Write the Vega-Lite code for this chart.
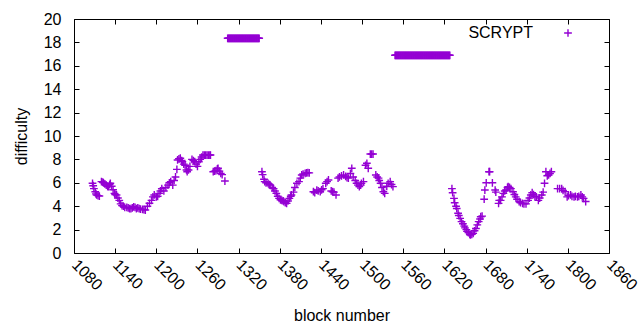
{
 "$schema": "https://vega.github.io/schema/vega-lite/v6.json",
 "width": 535, "height": 234,
 "autosize": "none",
 "padding": {"left": 74, "top": 19, "right": 31, "bottom": 77},
 "background": "white",
 "config": {"view": {"stroke": "black", "strokeWidth": 1}, "font": "Liberation Sans"},
 "data": {"values": [
  {"b":1107,"d":5.96},{"b":1108,"d":5.75},{"b":1109,"d":5.5},{"b":1111,"d":5.24},{"b":1112,"d":5.05},{"b":1113,"d":4.96},{"b":1115,"d":4.9},{"b":1117,"d":4.87},
  {"b":1120,"d":6.1},{"b":1122,"d":6.05},{"b":1123,"d":6.0},{"b":1125,"d":5.9},{"b":1127,"d":5.8},{"b":1129,"d":5.7},{"b":1130,"d":5.67},{"b":1132,"d":5.85},{"b":1133,"d":5.96},{"b":1135,"d":5.7},{"b":1137,"d":5.4},{"b":1139,"d":5.1},{"b":1140,"d":5.0},{"b":1142,"d":4.96},{"b":1144,"d":4.7},{"b":1146,"d":4.5},{"b":1148,"d":4.2},{"b":1150,"d":4.05},{"b":1152,"d":4.0},{"b":1154,"d":3.9},{"b":1157,"d":3.9},{"b":1159,"d":3.85},{"b":1161,"d":3.8},{"b":1163,"d":3.8},{"b":1165,"d":3.85},{"b":1167,"d":3.95},{"b":1169,"d":3.9},{"b":1171,"d":3.8},{"b":1173,"d":3.85},{"b":1175,"d":3.8},{"b":1177,"d":3.75},{"b":1180,"d":3.73},{"b":1182,"d":3.7},{"b":1184,"d":3.67},{"b":1187,"d":4.0},{"b":1190,"d":4.25},{"b":1193,"d":4.5},{"b":1195,"d":4.8},{"b":1197,"d":4.96},{"b":1200,"d":4.8},{"b":1202,"d":4.85},{"b":1204,"d":5.1},{"b":1206,"d":5.3},{"b":1208,"d":5.5},{"b":1211,"d":5.3},{"b":1214,"d":5.6},{"b":1217,"d":5.8},{"b":1219,"d":6.0},{"b":1221,"d":6.1},{"b":1224,"d":5.8},{"b":1226,"d":6.2},{"b":1228,"d":6.5},{"b":1230,"d":7.15},{"b":1231,"d":7.95},{"b":1233,"d":8.05},{"b":1235,"d":8.1},{"b":1237,"d":7.9},{"b":1238,"d":7.8},{"b":1240,"d":7.6},{"b":1242,"d":7.5},{"b":1244,"d":7.1},{"b":1245,"d":6.95},{"b":1247,"d":7.1},{"b":1249,"d":7.4},{"b":1252,"d":8.0},{"b":1254,"d":7.9},{"b":1256,"d":7.8},{"b":1258,"d":7.6},{"b":1260,"d":7.4},{"b":1262,"d":7.8},{"b":1264,"d":8.0},{"b":1266,"d":8.2},{"b":1268,"d":8.37},{"b":1270,"d":8.37},{"b":1272,"d":8.37},{"b":1274,"d":8.37},{"b":1276,"d":8.37},{"b":1278,"d":8.37},{"b":1279,"d":8.37},{"b":1283,"d":6.95},{"b":1285,"d":7.0},{"b":1287,"d":7.05},{"b":1289,"d":7.2},{"b":1290,"d":7.24},{"b":1292,"d":7.0},{"b":1294,"d":6.8},{"b":1296,"d":6.7},{"b":1300,"d":6.15},
  {"b":1304,"d":18.35},{"b":1305,"d":18.35},{"b":1306,"d":18.35},{"b":1307,"d":18.35},{"b":1308,"d":18.35},{"b":1309,"d":18.35},{"b":1310,"d":18.35},{"b":1311,"d":18.35},{"b":1312,"d":18.35},{"b":1313,"d":18.35},{"b":1314,"d":18.35},{"b":1315,"d":18.35},{"b":1316,"d":18.35},{"b":1317,"d":18.35},{"b":1318,"d":18.35},{"b":1319,"d":18.35},{"b":1320,"d":18.35},{"b":1321,"d":18.35},{"b":1322,"d":18.35},{"b":1323,"d":18.35},{"b":1324,"d":18.35},{"b":1325,"d":18.35},{"b":1326,"d":18.35},{"b":1327,"d":18.35},{"b":1328,"d":18.35},{"b":1329,"d":18.35},{"b":1330,"d":18.35},{"b":1331,"d":18.35},{"b":1332,"d":18.35},{"b":1333,"d":18.35},{"b":1334,"d":18.35},{"b":1335,"d":18.35},{"b":1336,"d":18.35},{"b":1337,"d":18.35},{"b":1338,"d":18.35},{"b":1339,"d":18.35},{"b":1340,"d":18.35},{"b":1341,"d":18.35},{"b":1342,"d":18.35},{"b":1343,"d":18.35},{"b":1344,"d":18.35},{"b":1345,"d":18.35},{"b":1346,"d":18.35},{"b":1347,"d":18.35},{"b":1348,"d":18.35},{"b":1349,"d":18.35},{"b":1350,"d":18.35},
  {"b":1354,"d":6.95},{"b":1355,"d":6.7},{"b":1357,"d":6.3},{"b":1358,"d":6.1},{"b":1360,"d":6.0},{"b":1363,"d":5.96},{"b":1365,"d":5.85},{"b":1366,"d":5.8},{"b":1369,"d":5.6},{"b":1371,"d":5.5},{"b":1373,"d":5.3},{"b":1375,"d":5.1},{"b":1377,"d":4.85},{"b":1379,"d":4.67},{"b":1381,"d":4.55},{"b":1383,"d":4.5},{"b":1385,"d":4.45},{"b":1386,"d":4.4},{"b":1388,"d":4.3},{"b":1390,"d":4.24},{"b":1392,"d":4.45},{"b":1394,"d":4.67},{"b":1396,"d":4.85},{"b":1397,"d":4.96},{"b":1400,"d":5.2},{"b":1402,"d":5.6},{"b":1405,"d":5.96},{"b":1408,"d":6.1},{"b":1410,"d":6.4},{"b":1412,"d":6.67},{"b":1414,"d":6.75},{"b":1417,"d":6.8},{"b":1419,"d":6.85},{"b":1421,"d":6.87},{"b":1423,"d":6.85},
  {"b":1429,"d":5.24},{"b":1431,"d":5.15},{"b":1434,"d":5.38},{"b":1436,"d":5.3},{"b":1439,"d":5.24},{"b":1441,"d":5.4},{"b":1443,"d":5.5},{"b":1447,"d":5.96},{"b":1449,"d":6.1},{"b":1451,"d":6.24},{"b":1455,"d":5.3},{"b":1457,"d":5.24},{"b":1459,"d":5.2},{"b":1462,"d":4.96},{"b":1465,"d":6.4},{"b":1467,"d":6.5},{"b":1470,"d":6.6},{"b":1473,"d":6.67},{"b":1476,"d":6.55},{"b":1478,"d":6.45},{"b":1480,"d":6.4},{"b":1483,"d":6.8},{"b":1485,"d":7.24},{"b":1487,"d":6.5},{"b":1490,"d":6.2},{"b":1492,"d":5.96},{"b":1494,"d":5.8},{"b":1496,"d":5.67},{"b":1498,"d":5.8},{"b":1499,"d":5.96},{"b":1502,"d":6.1},{"b":1505,"d":7.5},{"b":1507,"d":7.67},{"b":1509,"d":7.24},{"b":1512,"d":8.46},{"b":1514,"d":8.46},{"b":1516,"d":8.46},{"b":1520,"d":6.67},{"b":1522,"d":6.5},{"b":1524,"d":6.4},{"b":1525,"d":6.2},{"b":1527,"d":5.96},{"b":1529,"d":5.6},{"b":1531,"d":5.24},{"b":1533,"d":5.1},{"b":1536,"d":5.7},{"b":1538,"d":5.96},{"b":1541,"d":6.1},{"b":1543,"d":5.85},{"b":1545,"d":5.67},
  {"b":1548,"d":16.9},{"b":1549,"d":16.9},{"b":1550,"d":16.9},{"b":1551,"d":16.9},{"b":1552,"d":16.9},{"b":1553,"d":16.9},{"b":1554,"d":16.9},{"b":1555,"d":16.9},{"b":1556,"d":16.9},{"b":1557,"d":16.9},{"b":1558,"d":16.9},{"b":1559,"d":16.9},{"b":1560,"d":16.9},{"b":1561,"d":16.9},{"b":1562,"d":16.9},{"b":1563,"d":16.9},{"b":1564,"d":16.9},{"b":1565,"d":16.9},{"b":1566,"d":16.9},{"b":1567,"d":16.9},{"b":1568,"d":16.9},{"b":1569,"d":16.9},{"b":1570,"d":16.9},{"b":1571,"d":16.9},{"b":1572,"d":16.9},{"b":1573,"d":16.9},{"b":1574,"d":16.9},{"b":1575,"d":16.9},{"b":1576,"d":16.9},{"b":1577,"d":16.9},{"b":1578,"d":16.9},{"b":1579,"d":16.9},{"b":1580,"d":16.9},{"b":1581,"d":16.9},{"b":1582,"d":16.9},{"b":1583,"d":16.9},{"b":1584,"d":16.9},{"b":1585,"d":16.9},{"b":1586,"d":16.9},{"b":1587,"d":16.9},{"b":1588,"d":16.9},{"b":1589,"d":16.9},{"b":1590,"d":16.9},{"b":1591,"d":16.9},{"b":1592,"d":16.9},{"b":1593,"d":16.9},{"b":1594,"d":16.9},{"b":1595,"d":16.9},{"b":1596,"d":16.9},{"b":1597,"d":16.9},{"b":1598,"d":16.9},{"b":1599,"d":16.9},{"b":1600,"d":16.9},{"b":1601,"d":16.9},{"b":1602,"d":16.9},{"b":1603,"d":16.9},{"b":1604,"d":16.9},{"b":1605,"d":16.9},{"b":1606,"d":16.9},{"b":1607,"d":16.9},{"b":1608,"d":16.9},{"b":1609,"d":16.9},{"b":1610,"d":16.9},{"b":1611,"d":16.9},{"b":1612,"d":16.9},{"b":1613,"d":16.9},{"b":1614,"d":16.9},{"b":1615,"d":16.9},{"b":1616,"d":16.9},{"b":1617,"d":16.9},{"b":1618,"d":16.9},{"b":1619,"d":16.9},{"b":1620,"d":16.9},{"b":1621,"d":16.9},{"b":1622,"d":16.9},{"b":1623,"d":16.9},{"b":1624,"d":16.9},{"b":1625,"d":16.9},{"b":1626,"d":16.9},{"b":1627,"d":16.9},{"b":1628,"d":16.9},
  {"b":1631,"d":5.5},{"b":1632,"d":5.15},{"b":1634,"d":4.67},{"b":1635,"d":4.3},{"b":1637,"d":4.0},{"b":1638,"d":3.8},{"b":1640,"d":3.4},{"b":1641,"d":3.2},{"b":1643,"d":2.96},{"b":1645,"d":2.68},{"b":1647,"d":2.5},{"b":1649,"d":2.3},{"b":1650,"d":2.15},{"b":1652,"d":2.0},{"b":1653,"d":1.85},{"b":1655,"d":1.74},{"b":1657,"d":1.6},{"b":1658,"d":1.54},{"b":1660,"d":1.6},{"b":1662,"d":1.68},{"b":1664,"d":1.9},{"b":1666,"d":2.1},{"b":1668,"d":2.4},{"b":1670,"d":2.68},{"b":1672,"d":2.9},{"b":1673,"d":3.1},{"b":1675,"d":3.15},{"b":1678,"d":4.6},{"b":1679,"d":5.38},{"b":1681,"d":6.0},{"b":1685,"d":6.95},{"b":1686,"d":6.95},{"b":1690,"d":6.0},{"b":1694,"d":5.38},{"b":1695,"d":5.2},{"b":1699,"d":4.24},{"b":1700,"d":4.5},{"b":1702,"d":4.5},{"b":1704,"d":4.8},{"b":1706,"d":5.1},{"b":1708,"d":5.3},{"b":1710,"d":5.38},{"b":1712,"d":5.6},{"b":1713,"d":5.67},{"b":1715,"d":5.6},{"b":1717,"d":5.5},{"b":1720,"d":5.24},{"b":1722,"d":5.0},{"b":1724,"d":4.8},{"b":1726,"d":4.6},{"b":1729,"d":4.4},{"b":1731,"d":4.3},{"b":1734,"d":4.24},{"b":1736,"d":4.2},{"b":1739,"d":4.2},{"b":1742,"d":4.5},{"b":1744,"d":4.7},{"b":1746,"d":4.96},{"b":1748,"d":5.15},{"b":1750,"d":5.0},{"b":1752,"d":4.85},{"b":1754,"d":4.8},{"b":1757,"d":4.5},{"b":1759,"d":4.7},{"b":1762,"d":4.96},{"b":1764,"d":5.2},{"b":1766,"d":5.96},{"b":1768,"d":6.95},{"b":1770,"d":6.6},{"b":1772,"d":6.67},{"b":1774,"d":6.8},{"b":1776,"d":6.95},{"b":1785,"d":5.5},{"b":1788,"d":5.5},{"b":1791,"d":5.5},{"b":1793,"d":5.35},{"b":1796,"d":5.24},{"b":1799,"d":4.8},{"b":1801,"d":4.9},{"b":1804,"d":4.96},{"b":1806,"d":4.85},{"b":1809,"d":4.8},{"b":1811,"d":4.85},{"b":1814,"d":4.8},{"b":1816,"d":4.85},{"b":1819,"d":4.96},{"b":1821,"d":4.8},{"b":1823,"d":4.67},{"b":1826,"d":4.4}
 ]},
 "layer": [
  {
   "mark": {"type": "point", "shape": "M-1,0H1M0,-1V1", "filled": false, "strokeWidth": 1.4, "size": 60, "opacity": 1},
   "encoding": {
    "x": {"field": "b", "type": "quantitative",
      "scale": {"domain": [1080, 1860], "nice": false, "zero": false},
      "axis": {"values": [1080,1140,1200,1260,1320,1380,1440,1500,1560,1620,1680,1740,1800,1860], "format": "d",
        "title": "block number", "titleFontSize": 16, "titleFontWeight": "normal", "titleColor": "black", "titlePadding": 15,
        "labelFontSize": 16, "labelColor": "black", "labelAngle": 45, "labelAlign": "left", "labelBaseline": "middle",
        "labelPadding": 14, "labelFlush": false, "labelOverlap": false, "tickSize": -5, "tickColor": "black", "domain": false, "grid": false}},
    "y": {"field": "d", "type": "quantitative",
      "scale": {"domain": [0, 20], "nice": false},
      "axis": {"values": [0,2,4,6,8,10,12,14,16,18,20],
        "title": "difficulty", "titleFontSize": 16, "titleFontWeight": "normal", "titleColor": "black", "titlePadding": 14,
        "labelFontSize": 16, "labelColor": "black", "labelPadding": 18, "labelFlush": false, "labelOverlap": false,
        "tickSize": -5, "tickColor": "black", "domain": false, "grid": false}},
    "color": {"datum": "SCRYPT", "scale": {"range": ["#9400d3"]},
      "legend": {"orient": "none", "legendX": 486, "legendY": 6, "title": null, "padding": 0,
        "labelFontSize": 16, "labelColor": "black", "labelAlign": "right", "labelOffset": -43,
        "symbolType": "M-1,0H1M0,-1V1", "symbolSize": 60, "symbolStrokeWidth": 1.4, "symbolFillColor": "transparent"}}
   }
  },
  {
   "mark": {"type": "point", "opacity": 0},
   "encoding": {
    "x": {"field": "b", "type": "quantitative",
      "axis": {"orient": "top", "values": [1080,1140,1200,1260,1320,1380,1440,1500,1560,1620,1680,1740,1800,1860],
        "title": null, "labels": false, "tickSize": -5, "tickColor": "black", "domain": false, "grid": false}},
    "y": {"field": "d", "type": "quantitative",
      "axis": {"orient": "right", "values": [0,2,4,6,8,10,12,14,16,18,20],
        "title": null, "labels": false, "tickSize": -5, "tickColor": "black", "domain": false, "grid": false}}
   }
  }
 ],
 "resolve": {"axis": {"x": "independent", "y": "independent"}}
}
